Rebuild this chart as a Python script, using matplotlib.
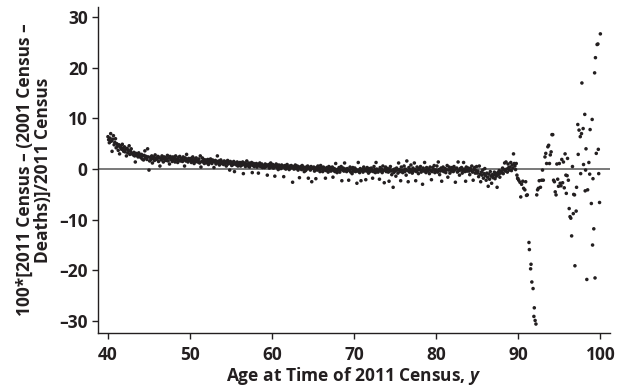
import numpy as np
import matplotlib
matplotlib.use("Agg")
import matplotlib.pyplot as plt

# ---- data: monthly ages 40..89 11/12, one row of 12 values per year ----
rows_40_89 = [
    [6.4, 5.8, 5.2, 6.1, 7.0, 5.5, 3.5, 5.9, 6.6, 4.8, 5.3, 6.0],   # 40
    [4.2, 5.0, 4.5, 3.7, 4.8, 3.0, 4.3, 4.6, 3.9, 4.9, 4.1, 3.5],   # 41
    [4.4, 3.4, 3.9, 2.6, 4.1, 3.2, 3.7, 4.6, 2.9, 3.5, 4.0, 3.1],   # 42
    [3.0, 2.8, 3.3, 2.6, 1.4, 3.1, 2.7, 2.9, 2.4, 3.2, 2.5, 2.8],   # 43
    [2.3, 2.9, 2.0, 2.6, 1.8, 2.7, 3.6, 2.2, 2.5, 1.9, 4.0, 2.4],   # 44
    [-0.2, 1.6, 2.3, 1.9, 2.6, 1.2, 2.1, 2.4, 1.7, 2.8, 1.9, 2.2],  # 45
    [2.0, 2.5, 1.5, 2.3, 0.6, 2.1, 1.8, 2.6, 2.2, 1.4, 2.4, 1.9],   # 46
    [2.3, 1.7, 2.0, 2.7, 1.6, 2.2, 1.0, 2.5, 1.9, 2.1, 1.5, 2.4],   # 47
    [1.9, 2.2, 1.4, 2.6, 1.8, 2.0, 1.3, 2.3, 1.7, 2.5, 1.6, 2.1],   # 48
    [2.0, 1.5, 2.4, 1.8, 0.6, 2.2, 1.6, 2.9, 1.9, 1.4, 2.1, 1.7],   # 49
    [1.8, 2.1, 1.3, 1.9, 2.4, 1.6, 1.1, 2.0, 1.5, 2.2, 1.7, 1.4],   # 50
    [1.6, 2.0, 1.2, 2.6, 0.4, 1.5, 2.2, 1.4, 1.9, 1.1, 1.7, 1.8],   # 51
    [1.5, 1.2, 1.9, 0.9, 1.6, 1.3, 2.0, 1.4, 1.1, 1.8, 1.5, 0.3],   # 52
    [1.4, 1.7, 1.0, 1.5, 2.6, 1.2, 1.6, 0.8, 1.3, 1.8, 1.1, 1.4],   # 53
    [1.3, 0.9, 1.6, 1.1, 1.4, 0.6, 1.2, 1.7, 1.0, 1.3, -0.2, 1.5],  # 54
    [1.1, 0.7, 1.3, 0.9, 1.5, -0.5, 1.0, 1.2, 0.8, 1.4, 0.6, 1.1],  # 55
    [1.0, 1.3, 0.6, 1.1, 0.8, 1.4, -0.9, 0.9, 1.2, 0.5, 1.0, 1.6],  # 56
    [0.9, 0.6, 1.2, 0.4, 1.0, 0.8, 1.3, -0.7, 0.7, 1.1, 0.5, 0.9],  # 57
    [0.8, 1.1, 0.4, 0.9, -0.8, 0.7, 1.2, 0.5, 0.8, 1.0, 0.3, 0.6],  # 58
    [0.7, 0.3, 1.0, 0.5, 0.8, -1.2, 0.6, 0.9, 0.2, 0.7, 1.2, 0.4],  # 59
    [0.6, 0.9, 0.2, 0.7, -1.4, 0.5, 1.0, 0.3, 0.7, -0.1, 0.8, 0.4], # 60
    [0.5, 0.1, 0.8, 0.4, 0.6, -1.5, 0.3, 0.7, 0.0, 0.5, 0.9, 0.2],  # 61
    [0.4, -0.1, 0.6, 0.2, 0.7, 0.3, -2.6, 0.5, 0.0, 0.4, 0.8, 0.1], # 62
    [0.3, 0.6, -0.2, 0.4, -1.7, 0.2, 0.5, -0.1, 0.7, 0.1, 0.4, -0.5], # 63
    [0.2, -0.3, 0.4, 0.0, 0.6, -1.8, 0.1, 0.3, -0.2, 0.5, -2.5, 0.2], # 64
    [0.1, 0.4, -0.4, 0.1, -1.9, 0.3, -0.2, 0.6, -0.1, 0.2, -0.5, 0.7], # 65
    [0.0, 0.3, -0.5, 0.4, -0.2, 0.1, -1.8, -0.3, 0.3, 0.0, -0.6, 0.5], # 66
    [-0.1, 0.3, -0.4, 0.0, 0.4, -1.6, -0.3, 0.1, -0.5, 1.1, -0.1, -0.7], # 67
    [-0.2, 0.0, 0.3, -0.6, -0.1, 0.5, -2.3, -0.2, 0.2, -0.4, 1.2, 0.0], # 68
    [-0.1, -0.5, 0.1, -0.1, -2.2, -0.3, 0.4, -0.6, 0.0, -0.9, 0.3, -0.4], # 69
    [-0.3, 0.2, -0.5, -0.1, -2.8, -0.4, 1.3, -0.2, -0.7, 0.1, -2.3, -0.3], # 70
    [-0.1, -0.6, 0.4, -0.3, 0.0, -2.1, -0.4, 0.3, -0.2, -0.8, 0.1, -0.5], # 71
    [-0.4, 0.2, -0.2, -1.8, -0.5, 0.5, -0.1, -0.7, 1.3, 0.0, -0.3, -0.6], # 72
    [-0.2, -2.0, 0.3, -0.4, 0.0, -0.7, 0.6, -0.3, -2.7, -0.1, 0.4, -0.5], # 73
    [-0.3, 0.1, -0.6, -2.4, -0.1, 0.5, -0.4, -1.1, -0.2, -3.6, -0.7, 0.0], # 74
    [-0.4, -1.4, 0.2, -0.2, -0.8, 1.2, -0.1, -0.5, -2.3, 0.4, -0.3, -0.7], # 75
    [-0.2, 0.6, -0.5, 0.0, -1.2, 1.6, -0.3, -2.5, 0.3, -0.6, -0.1, 0.8], # 76
    [-0.3, -0.8, 0.2, -0.4, 1.2, -0.1, -2.3, -0.5, 0.4, -0.2, -0.9, 0.1], # 77
    [-0.1, 0.5, -0.6, -0.2, -3.0, 0.2, -0.4, 1.3, -0.3, -0.7, 0.3, 0.0], # 78
    [-0.4, 0.0, -0.9, 0.4, -0.3, -2.1, -0.5, 0.3, -0.1, 0.7, -0.7, -0.2], # 79
    [-0.2, 0.6, -0.6, 1.4, -0.1, -1.1, -0.4, 0.2, -2.4, -0.3, 0.4, -0.5], # 80
    [-0.3, 0.1, -0.7, -0.1, 0.7, -1.6, -0.2, 0.4, -0.8, 0.0, -0.4, 0.3], # 81
    [-0.1, -0.5, 0.5, -0.2, -2.6, 0.0, 0.2, -0.6, 1.4, -0.3, -1.2, 0.1], # 82
    [-0.2, 0.3, -0.8, -0.3, 1.3, 0.0, -0.5, -2.4, 0.4, -0.4, -0.1, 0.2], # 83
    [-0.4, -1.1, 0.1, -0.2, 0.6, -0.6, -2.2, -0.1, 0.3, -0.8, -0.3, 0.5], # 84
    [-0.8, -0.4, -1.5, 0.6, -1.0, -2.5, -0.6, -1.2, -0.2, -1.8, -0.9, 0.1], # 85
    [-1.3, -2.2, -0.8, -1.6, -3.4, -1.0, -2.0, -0.5, -1.4, -2.8, -1.1, -1.7], # 86
    [-1.2, -0.6, -1.9, -0.9, -1.4, -3.6, -0.7, -1.1, -0.3, -1.6, -0.8, -0.4], # 87
    [-0.5, 0.2, -0.9, -0.1, 1.2, -0.4, 1.4, 0.0, -0.6, 1.0, 0.3, -0.2], # 88
    [0.4, 1.3, -0.3, 0.8, 0.2, 3.0, 1.1, 0.6, -0.1, 1.1, -1.2, -1.8], # 89
]

# ---- data: ages 90..100 (read individually) ----
ages_90_100 = [
    89.95, 90.05, 90.2, 90.3, 90.4, 90.55, 90.65, 90.8, 90.9, 91.0, 91.1,
    91.3, 91.35, 91.5, 91.55, 91.65, 91.8, 91.9, 91.95, 92.05, 92.15,
    92.25, 92.35, 92.45, 92.55, 92.7, 92.85, 92.95, 93.05,
    93.25, 93.35, 93.45, 93.6, 93.7, 93.8, 93.9, 94.0, 94.1, 94.2,
    94.3, 94.4, 94.5, 94.6, 94.7, 94.8, 94.9, 95.0, 95.1, 95.2, 95.3, 95.4,
    95.5, 95.6, 95.7, 95.8, 95.85, 95.95, 96.0, 96.1, 96.2, 96.3, 96.4, 96.5,
    96.6, 96.7, 96.75, 96.85, 96.9, 97.05, 97.1,
    97.25, 97.3, 97.4, 97.55, 97.6, 97.7, 97.75, 97.9, 97.95, 98.1, 98.15,
    98.2, 98.25, 98.35, 98.45, 98.6, 98.7, 98.75, 98.9, 99.0, 99.05, 99.1,
    99.2, 99.3, 99.35, 99.4, 99.5, 99.6, 99.7, 99.75, 99.8, 99.9, 100.0,
]
values_90_100 = [
    -1.9, -2.2, -2.6, -5.5, -3.0, -2.4, -3.8, -4.1, -2.5, -5.2, -5.1,
    -14.5, -15.9, -19.7, -18.8, -22.3, -23.6, -29.1, -27.4, -29.9, -30.6,
    -5.1, -4.1, -3.8, -2.3, -3.6, -2.2, -0.2, -2.2,
    2.4, 3.1, 1.1, 4.4, 4.7, 1.1, 2.8, 3.4, 6.8, 6.8,
    -2.2, -2.5, -4.5, -5.1, 1.0, -2.0, -3.4, 1.1, -2.8, -3.3, 1.9, -2.7,
    1.4, -3.7, 3.0, -1.2, -4.8, -1.3, 2.1, -2.2, -7.8, -9.4, -9.7, -13.2,
    0.5, -8.8, -5.0, -5.1, -19.1, -8.3, -3.6,
    8.8, 2.9, 7.7, 6.4, -0.9, 7.0, 17.0, 8.0, 0.9, 10.8, -4.3,
    -0.2, 4.0, -21.8, -4.1, 1.3, -1.0, 7.8, -6.8, 9.8, -15.0, -1.9,
    -11.8, 19.0, -21.5, 22.0, 3.1, 24.6, 24.7, 3.9, -0.9, -6.6, 26.7,
]

x_ticks = [40, 50, 60, 70, 80, 90, 100]
y_ticks = [-30, -20, -10, 0, 10, 20, 30]

# ---- build ----
vals_main = np.array(rows_40_89).ravel()
ages_main = 40 + np.arange(vals_main.size) / 12.0
ages = np.concatenate([ages_main, np.array(ages_90_100)])
vals = np.concatenate([vals_main, np.array(values_90_100)])

plt.rcParams['font.family'] = ['Open Sans', 'DejaVu Sans']
plt.rcParams['mathtext.fontset'] = 'custom'
plt.rcParams['mathtext.bfit'] = 'Open Sans:italic:bold'

fig = plt.figure(figsize=(6.17, 3.91), dpi=100)
ax = fig.add_axes([0.159, 0.148, 0.83, 0.834])

ax.axhline(0, color='#6e6e6e', lw=1.3, zorder=1)
ax.scatter(ages, vals, s=6.5, color='#231f20', edgecolors='none', zorder=2)

ax.set_xlim(38.8, 101.2)
ax.set_ylim(-32.4, 32.0)
ax.set_xticks(x_ticks)
ax.set_yticks(y_ticks)
ax.set_yticklabels([f"{t}".replace('-', '\u2013') for t in y_ticks])
for s in ['top', 'right']:
    ax.spines[s].set_visible(False)
for s in ['left', 'bottom']:
    ax.spines[s].set_color('#231f20')
    ax.spines[s].set_linewidth(1.0)
ax.tick_params(axis='both', direction='out', length=4, width=1.0,
               color='#231f20', labelsize=12.5, labelcolor='#231f20')
ax.tick_params(axis='x', pad=5)
for lab in ax.get_xticklabels() + ax.get_yticklabels():
    lab.set_fontweight('bold')

ax.set_xlabel(r'Age at Time of 2011 Census, $\boldsymbol{y}$', fontsize=12.5,
              fontweight='bold', color='#231f20', labelpad=1)
ax.set_ylabel('100*[2011 Census \u2013 (2001 Census \u2013\nDeaths)]/2011 Census',
              fontsize=12.5, fontweight='bold', color='#231f20',
              labelpad=5, linespacing=1.0)

fig.savefig('out.png', dpi=100)
